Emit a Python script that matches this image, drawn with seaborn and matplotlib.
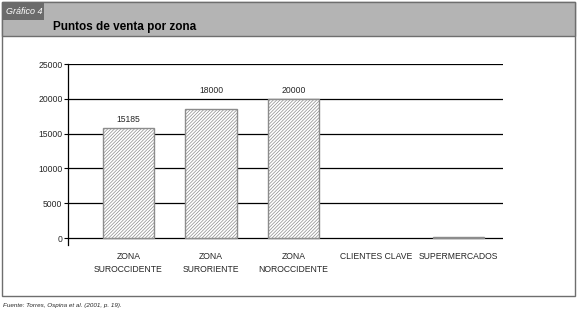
import matplotlib
matplotlib.use("agg")
import matplotlib.pyplot as plt
import seaborn as sns
import pandas as pd
from matplotlib.patches import Rectangle

# data
zonas = ["ZONA\nSUROCCIDENTE", "ZONA\nSURORIENTE", "ZONA\nNOROCCIDENTE",
         "CLIENTES CLAVE", "SUPERMERCADOS"]
alturas = [15800, 18500, 20000, 0, 120]          # heights as drawn
etiquetas = ["15185", "18000", "20000", "", ""]  # printed values
yticks = [0, 5000, 10000, 15000, 20000, 25000]

sns.set_style("white")
plt.rcParams['font.family'] = ['Liberation Sans', 'DejaVu Sans']
plt.rcParams['hatch.linewidth'] = 0.5
plt.rcParams['hatch.color'] = '#8c8c8c'

fig = plt.figure(figsize=(5.78, 3.16), dpi=100)

# outer frame and header band
fig.patches.append(Rectangle((2/578, 20/316), 573/578, 294/316, transform=fig.transFigure,
                             facecolor='none', edgecolor='#6e6e6e', lw=1.0, zorder=0))
fig.patches.append(Rectangle((2/578, 280/316), 573/578, 34/316, transform=fig.transFigure,
                             facecolor='#b4b4b4', edgecolor='#6e6e6e', lw=1.0, zorder=1))
fig.patches.append(Rectangle((2/578, 296/316), 42/578, 18/316, transform=fig.transFigure,
                             facecolor='#6b6b6b', edgecolor='none', zorder=2))
fig.text(6/578, 305/316, "Gráfico 4", color='white', fontsize=6.5, style='italic',
         va='center', ha='left', zorder=3)
fig.text(53/578, 289/316, "Puntos de venta por zona", color='black', fontsize=8.5,
         weight='bold', va='center', ha='left', zorder=3)
fig.text(3/578, 11/316, "Fuente: Torres, Ospina et al. (2001, p. 19).", fontsize=4.5,
         style='italic', va='center', ha='left')

ax = fig.add_axes([68/578, 71/316, 435/578, 181/316])
ax.set_facecolor('none')
ax.set_zorder(5)

df = pd.DataFrame({"zona": zonas, "valor": alturas})
sns.barplot(data=df, x="zona", y="valor", ax=ax, color='white', width=0.62,
            edgecolor='#8c8c8c', linewidth=1.0, zorder=3)
for p in ax.patches:
    p.set_hatch('//////////')
    p.set_facecolor('white')
    p.set_edgecolor('#8c8c8c')
    if p.get_height() == 0:
        p.set_linewidth(0)

for y in yticks:
    ax.axhline(y, color='black', lw=0.9, zorder=1)

for p, lab in zip(ax.patches, etiquetas):
    if lab:
        top = p.get_height()
        # keep the label clear of a gridline just above the bar
        for g in yticks:
            if top < g < top + 2000:
                top = g
        ax.annotate(lab, (p.get_x() + p.get_width() / 2, top),
                    xytext=(0, 3), textcoords='offset points',
                    ha='center', va='bottom', fontsize=6.2)

ax.set_xlim(-0.733, 4.54)
ax.set_ylim(-1000, 25000)
ax.set_yticks(yticks)
ax.set_yticklabels([str(v) for v in yticks], fontsize=6.2)
ax.tick_params(axis='y', length=3, width=0.8, color='black', pad=1, left=True)
ax.tick_params(axis='x', length=0, pad=5, labelsize=6.2)
for lab in ax.get_xticklabels():
    lab.set_linespacing(1.6)
ax.set_xlabel("")
ax.set_ylabel("")
for s in ['top', 'right', 'bottom']:
    ax.spines[s].set_visible(False)
ax.spines['left'].set_color('black')
ax.spines['left'].set_linewidth(0.9)

fig.savefig("out.png", dpi=100)
